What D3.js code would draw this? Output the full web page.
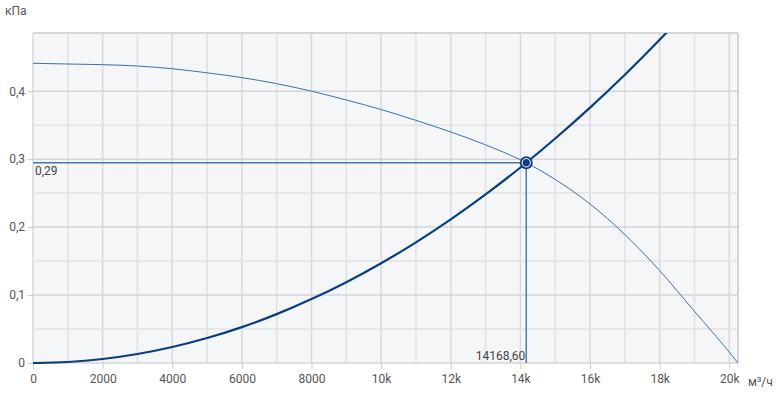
<!DOCTYPE html>
<html lang="ru">
<head>
<meta charset="UTF-8">
<title>Рабочая точка</title>
<style>
  body { margin: 0; background: #fff; }
  .axis text { font-family: Roboto, "Liberation Sans", sans-serif; font-size: 12px; fill: #555; }
  .axis path { display: none; }
  .axis line { stroke: #c9ccd1; }
  .lbl { font-family: Roboto, "Liberation Sans", sans-serif; font-size: 12px; fill: #444; }
</style>
<script src="https://d3js.org/d3.v7.min.js"></script>
</head>
<body>
<script>
// flow, м³/ч
var flow = [0, 1000, 2000, 3000, 4000, 5000, 6000, 7000, 8000, 9000, 10000, 11000, 12000, 13000, 14000, 14168.6, 15000, 16000, 17000, 18000, 19000, 20000, 20250];
// fan pressure curve, кПа
var fanPressure = [0.441, 0.440, 0.439, 0.437, 0.433, 0.427, 0.420, 0.411, 0.400, 0.387, 0.373, 0.357, 0.340, 0.321, 0.299, 0.2947, 0.270, 0.234, 0.189, 0.136, 0.076, 0.016, 0];
// system resistance curve
var sysFlow = [0, 1000, 2000, 3000, 4000, 5000, 6000, 7000, 8000, 9000, 10000, 11000, 12000, 13000, 14000, 15000, 16000, 17000, 18000, 18300];
var sysPressure = [0, 0.0015, 0.0059, 0.0132, 0.0235, 0.0367, 0.0528, 0.0719, 0.094, 0.1189, 0.1468, 0.1776, 0.2114, 0.2481, 0.2877, 0.3303, 0.3758, 0.4242, 0.4756, 0.4916];
var opPoint = [14168.60, 0.2947];
var xTicks = [0, 2000, 4000, 6000, 8000, 10000, 12000, 14000, 16000, 18000, 20000];
var yTicks = [0, 0.1, 0.2, 0.3, 0.4];

var w = 783, h = 396;
var pLeft = 33, pRight = 738, pTop = 33, pBottom = 363;

var svg = d3.select("body").append("svg").attr("width", w).attr("height", h);

var x = d3.scaleLinear().domain([0, 20250]).range([pLeft, pRight]);
var y = d3.scaleLinear().domain([0, 0.4856]).range([pBottom, pTop]);

svg.append("rect").attr("x", pLeft).attr("y", pTop).attr("width", pRight - pLeft).attr("height", pBottom - pTop).attr("fill", "#f4f6f8");

// grid
var g = svg.append("g");
g.selectAll(".vx").data(d3.range(0, 20001, 1000)).enter().append("line")
  .attr("x1", d => x(d)).attr("x2", d => x(d)).attr("y1", pTop).attr("y2", pBottom)
  .attr("stroke", d => d % 2000 === 0 ? "#d6d8dc" : "#dfe1e4").attr("stroke-width", 1.5);
g.selectAll(".hy").data(d3.range(0, 9).map(i => i * 0.05)).enter().append("line")
  .attr("x1", pLeft).attr("x2", pRight).attr("y1", d => y(d)).attr("y2", d => y(d))
  .attr("stroke", (d, i) => i % 2 === 0 ? "#d3d6da" : "#e0e2e5").attr("stroke-width", 1.5);
// frame top / right
svg.append("line").attr("x1", pLeft).attr("x2", pRight).attr("y1", pTop).attr("y2", pTop).attr("stroke", "#d3d6da").attr("stroke-width", 2);
svg.append("line").attr("x1", pRight).attr("x2", pRight).attr("y1", pTop).attr("y2", pBottom).attr("stroke", "#d3d6da").attr("stroke-width", 2);

// axes
svg.append("g").attr("class", "axis").attr("transform", "translate(0," + pBottom + ")")
  .call(d3.axisBottom(x).tickValues(xTicks).tickSize(6).tickPadding(5)
    .tickFormat(d => d >= 10000 ? (d / 1000) + "k" : d));
svg.append("g").attr("class", "axis").attr("transform", "translate(" + pLeft + ",0)")
  .call(d3.axisLeft(y).tickValues(yTicks).tickSize(5).tickPadding(3)
    .tickFormat(d => d3.format(".1~f")(d).replace(".", ",")));

svg.append("text").attr("class", "lbl").attr("x", 5).attr("y", 15).style("fill", "#555").text("кПа");
svg.append("text").attr("class", "lbl").attr("x", 748).attr("y", 386).style("fill", "#555").text("м³/ч");

var line = d3.line().x(d => x(d[0])).y(d => y(d[1])).curve(d3.curveMonotoneX);

// clip
svg.append("clipPath").attr("id", "clip").append("rect").attr("x", pLeft).attr("y", pTop).attr("width", pRight - pLeft).attr("height", pBottom - pTop + 1);

svg.append("path").attr("clip-path", "url(#clip)")
  .attr("d", line(flow.map((f, i) => [f, fanPressure[i]])))
  .attr("fill", "none").attr("stroke", "#3f70a8").attr("stroke-width", 1);

svg.append("path").attr("clip-path", "url(#clip)")
  .attr("d", line(sysFlow.map((f, i) => [f, sysPressure[i]])))
  .attr("fill", "none").attr("stroke", "#0c3e7d").attr("stroke-width", 2.2);

// operating point guides
svg.append("line").attr("x1", pLeft).attr("x2", x(opPoint[0])).attr("y1", y(opPoint[1])).attr("y2", y(opPoint[1]))
  .attr("stroke", "#4a78ad").attr("stroke-width", 1.5);
svg.append("line").attr("x1", x(opPoint[0])).attr("x2", x(opPoint[0])).attr("y1", y(opPoint[1])).attr("y2", pBottom)
  .attr("stroke", "#4a78ad").attr("stroke-width", 1.5);

svg.append("text").attr("class", "lbl").attr("x", pLeft + 2).attr("y", y(opPoint[1]) + 12)
  .text(d3.format(".2f")(opPoint[1]).replace(".", ","));
svg.append("text").attr("class", "lbl").attr("x", x(opPoint[0]) - 1).attr("y", pBottom - 3).attr("text-anchor", "end")
  .text(d3.format(".2f")(opPoint[0]).replace(".", ","));

svg.append("circle").attr("cx", x(opPoint[0])).attr("cy", y(opPoint[1])).attr("r", 6.5).attr("fill", "#0c3e7d");
svg.append("circle").attr("cx", x(opPoint[0])).attr("cy", y(opPoint[1])).attr("r", 4.2).attr("fill", "#0c3e7d")
  .attr("stroke", "#fff").attr("stroke-width", 1);
</script>
</body>
</html>
